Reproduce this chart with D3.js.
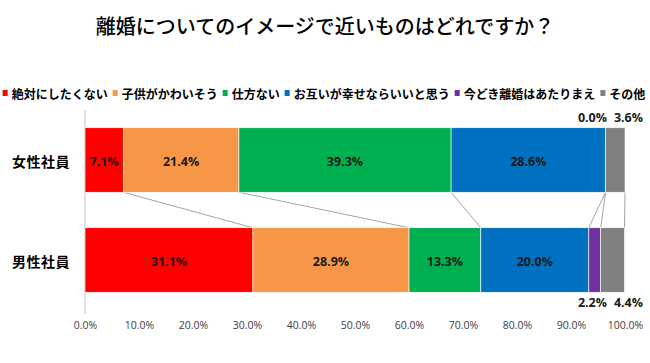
<!DOCTYPE html>
<html>
<head>
<meta charset="utf-8">
<script src="https://cdn.jsdelivr.net/npm/d3@7"></script>
<style>
    body { margin: 0; background: #fff; }
    svg { display: block; }
</style>
</head>
<body>
<svg id="chart" width="650" height="363"></svg>
<script>
// data
const title = "離婚についてのイメージで近いものはどれですか？";
const groups = ["女性社員", "男性社員"];
const answers = ["絶対にしたくない", "子供がかわいそう", "仕方ない", "お互いが幸せならいいと思う", "今どき離婚はあたりまえ", "その他"];
const femaleValues = [7.1, 21.4, 39.3, 28.6, 0.0, 3.6];
const maleValues = [31.1, 28.9, 13.3, 20.0, 2.2, 4.4];
const tickValues = [0, 10, 20, 30, 40, 50, 60, 70, 80, 90, 100];
const colors = ["#FF0000", "#F79646", "#00B050", "#0070C0", "#7030A0", "#808080"];

const WIDTH = 650,
    HEIGHT = 363,
    MARGINS = {top: 110, right: 25, bottom: 53, left: 85};

const jp = "'Noto Sans CJK JP', 'Noto Sans', sans-serif";
const num = "'Open Sans', 'Noto Sans', sans-serif";

let vis = d3.select("#chart");

let xScale = d3.scaleLinear().domain([0, 100]).range([MARGINS.left, WIDTH - MARGINS.right]),
    yScale = d3.scaleBand().domain(groups).range([MARGINS.top, HEIGHT - MARGINS.bottom])
        .paddingInner(0.355).paddingOuter(0.1775);

// title
vis.append("text")
    .attr("x", WIDTH / 2)
    .attr("y", 25)
    .attr("text-anchor", "middle")
    .attr("dominant-baseline", "central")
    .style("font-family", jp)
    .style("font-size", "20px")
    .style("font-weight", 500)
    .attr("fill", "#000")
    .text(title);

// legend, laid out from measured text widths and centred
let legend = vis.append("g");
let lx = 0;
answers.forEach((name, i) => {
    let item = legend.append("g").attr("transform", "translate(" + lx + ",0)");
    item.append("rect")
        .attr("x", 0).attr("y", -3)
        .attr("width", 5).attr("height", 6)
        .attr("fill", colors[i]);
    let t = item.append("text")
        .attr("x", 9)
        .attr("dominant-baseline", "central")
        .style("font-family", jp)
        .style("font-size", "12px")
        .style("font-weight", 700)
        .attr("fill", "#000")
        .text(name);
    lx += 9 + t.node().getComputedTextLength() + 5;
});
legend.attr("transform", "translate(" + (324 - (lx - 5) / 2) + ",93)");

// x axis labels only (no ticks / line)
let xAxis = d3.axisBottom(xScale)
    .tickValues(tickValues)
    .tickFormat(d => d.toFixed(1) + "%")
    .tickSize(0)
    .tickPadding(0);
let ax = vis.append("g")
    .attr("transform", "translate(0,322)")
    .call(xAxis);
ax.select(".domain").remove();
ax.selectAll("text")
    .style("font-family", num)
    .style("font-size", "10.5px")
    .attr("fill", "#404040");

// vertical axis line
vis.append("line")
    .attr("x1", xScale(0)).attr("x2", xScale(0))
    .attr("y1", MARGINS.top).attr("y2", HEIGHT - MARGINS.bottom + 4)
    .attr("stroke", "#bfbfbf")
    .attr("stroke-width", 1);

// category labels
vis.selectAll(".cat")
    .data(groups)
    .enter()
    .append("text")
    .attr("x", 70)
    .attr("y", d => yScale(d) + yScale.bandwidth() / 2 + 1)
    .attr("text-anchor", "end")
    .attr("dominant-baseline", "central")
    .style("font-family", jp)
    .style("font-size", "14px")
    .style("font-weight", 700)
    .style("letter-spacing", "0.5px")
    .attr("fill", "#000")
    .text(d => d);

// stack the series
function stackOf(values) {
    let acc = 0;
    return values.map((v, i) => {
        let seg = {v: v, i: i, x0: acc, x1: acc + v};
        acc += v;
        return seg;
    });
}
let series = [
    {group: groups[0], segs: stackOf(femaleValues), outside: "above"},
    {group: groups[1], segs: stackOf(maleValues), outside: "below"}
];

// connector lines between the two bars
let topBottom = yScale(groups[0]) + yScale.bandwidth();
let botTop = yScale(groups[1]);
vis.append("g").selectAll("line")
    .data(d3.range(answers.length))
    .enter()
    .append("line")
    .attr("x1", i => xScale(series[0].segs[i].x1))
    .attr("y1", topBottom)
    .attr("x2", i => xScale(series[1].segs[i].x1))
    .attr("y2", botTop)
    .attr("stroke", "#8c8c8c")
    .attr("stroke-width", 0.8);

series.forEach(s => {
    let g = vis.append("g");
    let y0 = yScale(s.group), bh = yScale.bandwidth();
    g.selectAll("rect")
        .data(s.segs)
        .enter()
        .append("rect")
        .attr("x", d => xScale(d.x0))
        .attr("y", y0)
        .attr("width", d => xScale(d.x1) - xScale(d.x0))
        .attr("height", bh)
        .attr("fill", d => colors[d.i])
        .attr("stroke", "#fff")
        .attr("stroke-width", 0.6);

    // labels inside wide segments
    g.selectAll(".in")
        .data(s.segs.filter(d => d.v >= 5))
        .enter()
        .append("text")
        .attr("x", d => xScale((d.x0 + d.x1) / 2))
        .attr("y", y0 + bh / 2 + 1)
        .attr("text-anchor", "middle")
        .attr("dominant-baseline", "central")
        .style("font-family", num)
        .style("font-size", "12.5px")
        .style("font-weight", 700)
        .attr("fill", "#1a1a1a")
        .text(d => d.v.toFixed(1) + "%");

    // small segments labelled outside the bar, right aligned
    let small = s.segs.filter(d => d.v < 5);
    g.selectAll(".out")
        .data(small)
        .enter()
        .append("text")
        .attr("x", (d, k) => xScale(100) + 18 - (small.length - 1 - k) * 36)
        .attr("y", s.outside === "above" ? y0 - 10 : y0 + bh + 10)
        .attr("text-anchor", "end")
        .attr("dominant-baseline", "central")
        .style("font-family", num)
        .style("font-size", "12.5px")
        .style("font-weight", 700)
        .attr("fill", "#1a1a1a")
        .text(d => d.v.toFixed(1) + "%");
});
</script>
</body>
</html>
